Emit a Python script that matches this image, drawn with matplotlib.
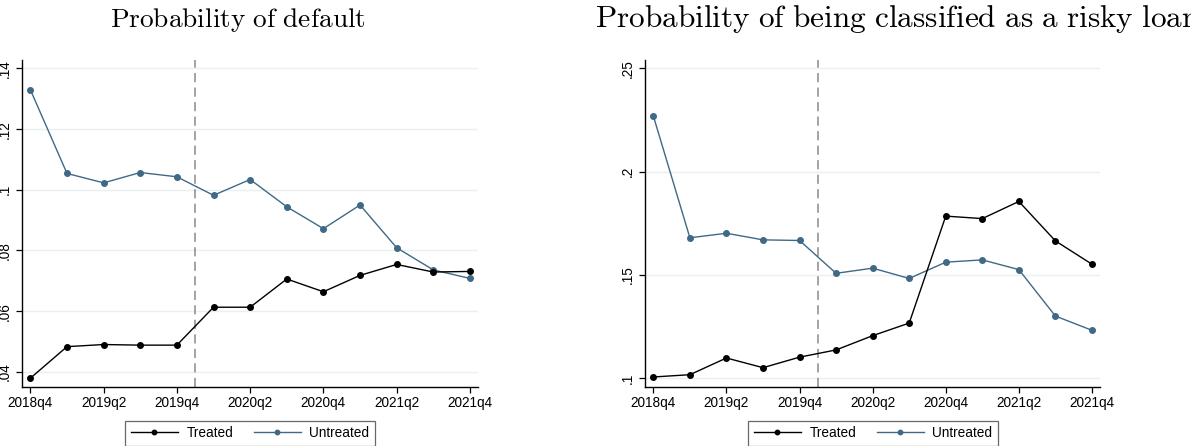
import numpy as np
import matplotlib
matplotlib.use('Agg')
from matplotlib import pyplot as plt
from matplotlib.lines import Line2D

# quarters 2018q4 .. 2021q4
quarters = ['2018q4', '2019q1', '2019q2', '2019q3', '2019q4', '2020q1', '2020q2',
            '2020q3', '2020q4', '2021q1', '2021q2', '2021q3', '2021q4']
tick_labels = ['2018q4', '2019q2', '2019q4', '2020q2', '2020q4', '2021q2', '2021q4']

# probability of default
default_treated = [.0379, .0483, .0490, .0488, .0488, .0613, .0613,
                   .0706, .0664, .0718, .0754, .0729, .0731]
default_untreated = [.1330, .1054, .1023, .1057, .1043, .0982, .1034,
                     .0944, .0872, .0950, .0809, .0736, .0708]
default_yticks = [.04, .06, .08, .10, .12, .14]
default_ylabels = ['.04', '.06', '.08', '.1', '.12', '.14']

# probability of being classified as a risky loan
risky_treated = [.1005, .1016, .1097, .1050, .1101, .1136, .1205,
                 .1266, .1784, .1772, .1855, .1664, .1551]
risky_untreated = [.2269, .1679, .1701, .1669, .1666, .1507, .1532,
                   .1482, .1561, .1572, .1525, .1300, .1231]
risky_yticks = [.10, .15, .20, .25]
risky_ylabels = ['.1', '.15', '.2', '.25']

treat_date = 4.5  # between 2019q4 and 2020q1

BLUE = '#3f6985'
GRID = '#e8f0f2'

plt.rcParams['font.family'] = ['Liberation Sans', 'DejaVu Sans']
plt.rcParams['mathtext.fontset'] = 'cm'

W, H = 1191, 446
fig = plt.figure(figsize=(W / 100, H / 100), dpi=100)


def px_axes(x0, x1, y0, y1):
    # axes rect from pixel edges (y measured from top)
    return fig.add_axes([x0 / W, 1 - y1 / H, (x1 - x0) / W, (y1 - y0) / H])


def panel(ax, treated, untreated, yticks, ylabels, ylim):
    x = np.arange(len(quarters))
    for yt in yticks:
        ax.axhline(yt, color=GRID, lw=1.0, zorder=0)
    ax.axvline(treat_date, color='#8a8a8a', lw=1.1, ls=(0, (6, 3.5)), zorder=1)
    ax.plot(x, untreated, color=BLUE, lw=1.0, marker='o', ms=4.0, zorder=3)
    ax.plot(x, treated, color='black', lw=1.0, marker='o', ms=4.0, zorder=4)
    ax.set_xlim(-0.22, 12.22)
    ax.set_ylim(*ylim)
    ax.set_xticks([quarters.index(t) for t in tick_labels])
    ax.set_xticklabels(tick_labels, fontsize=9.8)
    ax.set_yticks(yticks)
    ax.set_yticklabels(ylabels, fontsize=9.8, rotation=90, va='center')
    ax.tick_params(axis='both', direction='out', length=4.5, width=0.9, colors='black', pad=2)
    ax.tick_params(axis='y', pad=3)
    for s in ['top', 'right']:
        ax.spines[s].set_visible(False)
    for s in ['left', 'bottom']:
        ax.spines[s].set_linewidth(1.0)
    ax.set_facecolor('white')


ax1 = px_axes(22.3, 478, 60, 387.3)
panel(ax1, default_treated, default_untreated, default_yticks, default_ylabels, (.0349, .1428))

ax2 = px_axes(645.3, 1100, 60, 387.3)
panel(ax2, risky_treated, risky_untreated, risky_yticks, risky_ylabels, (.0955, .254))

# titles in a computer-modern style
fig.text(110 / W, 1 - 27 / H, r'$\mathrm{Probability\ of\ default}$',
         fontsize=19.7, ha='left', va='baseline')
fig.text(595 / W, 1 - 27 / H, r'$\mathrm{Probability\ of\ being\ classified\ as\ a\ risky\ loan}$',
         fontsize=22.5, ha='left', va='baseline')

handles = [Line2D([], [], color='black', lw=1.0, marker='o', ms=3.2),
           Line2D([], [], color=BLUE, lw=1.0, marker='o', ms=3.2)]
for x0, x1 in [(128, 372), (751.7, 994.3)]:
    leg = fig.legend(handles, ['Treated', 'Untreated'], ncol=2,
                     loc='upper center', bbox_to_anchor=((x0 + x1) / 2 / W, 1 - 420.7 / H),
                     fontsize=9.8, frameon=True, fancybox=False, edgecolor='#444444',
                     handlelength=3.5, handletextpad=0.6, columnspacing=1.5,
                     borderpad=0.4, borderaxespad=0)
    leg.get_frame().set_linewidth(0.9)

fig.savefig('out.png', dpi=100)
